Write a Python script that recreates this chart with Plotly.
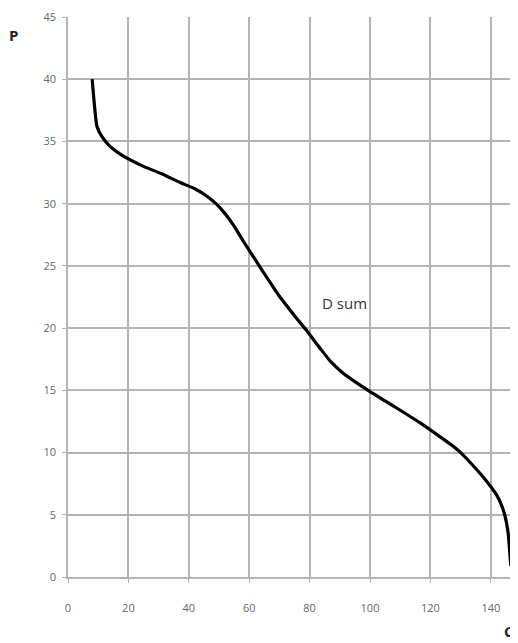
import plotly.graph_objects as go

# Demand curve D sum: quantity C vs price P
c_vals = [8, 8.8, 9.6, 11.2, 13.9, 17.8, 25, 31, 37.1, 42, 46, 49, 52, 55, 58, 63.6, 70.2, 75, 79,
          83.4, 87, 91, 95, 100, 105, 110, 116.5, 123, 127, 130, 134.7, 138.6, 141.9, 143.5, 144.7,
          145.7, 146.6]
p_vals = [40, 37.8, 36.2, 35.4, 34.6, 33.9, 33.0, 32.4, 31.7, 31.2, 30.6, 30.0, 29.2, 28.2, 27.0,
          24.9, 22.5, 21.0, 19.8, 18.4, 17.3, 16.4, 15.7, 14.9, 14.15, 13.4, 12.4, 11.3, 10.6, 10.0,
          8.8, 7.7, 6.6, 5.8, 4.9, 3.6, 0.9]

x_ticks = [0, 20, 40, 60, 80, 100, 120, 140]
y_ticks = [0, 5, 10, 15, 20, 25, 30, 35, 40, 45]

W, H = 510, 635
L, T, B = 60, 9, 66
pw, ph = W - L, H - T - B

fig = go.Figure()
fig.add_trace(go.Scatter(
    x=c_vals, y=p_vals, mode="lines",
    line=dict(color="black", width=3.2, shape="spline", smoothing=0.6),
    showlegend=False, hoverinfo="skip",
))

grid = "#b4b4b4"
fig.update_layout(
    width=W, height=H,
    margin=dict(l=L, r=0, t=T, b=B, autoexpand=False),
    paper_bgcolor="white", plot_bgcolor="white",
    font=dict(family="Open Sans, DejaVu Sans, sans-serif", color="#555"),
    xaxis=dict(range=[0, 149], tickvals=x_ticks, showgrid=True, gridcolor=grid, gridwidth=1.6,
               zeroline=False, showline=True, linecolor=grid, linewidth=1.6, automargin=False,
               ticks="outside", ticklen=4, tickcolor=grid, tickfont=dict(size=11, color="#666"),
               ticklabelstandoff=16),
    yaxis=dict(range=[0, 45], tickvals=y_ticks, showgrid=True, gridcolor=grid, gridwidth=1.6,
               zeroline=False, showline=True, linecolor=grid, linewidth=1.6, automargin=False,
               ticks="outside", ticklen=4, tickcolor=grid, tickfont=dict(size=11, color="#666"),
               ticklabelstandoff=4),
    annotations=[
        dict(text="D sum", x=91.7, y=22.0, xref="x", yref="y", showarrow=False,
             font=dict(size=15, color="#333")),
        dict(text="<b>P</b>", x=(5 - L) / pw, y=(T + ph - 27) / ph, xref="paper", yref="paper",
             showarrow=False, xanchor="center", yanchor="middle",
             font=dict(size=15, color="#222")),
        dict(text="<b>C</b>", x=(501 - L) / pw, y=(T + ph - 623) / ph, xref="paper", yref="paper",
             showarrow=False, xanchor="center", yanchor="middle",
             font=dict(size=15, color="#222")),
    ],
)

fig.write_html("out.html")
